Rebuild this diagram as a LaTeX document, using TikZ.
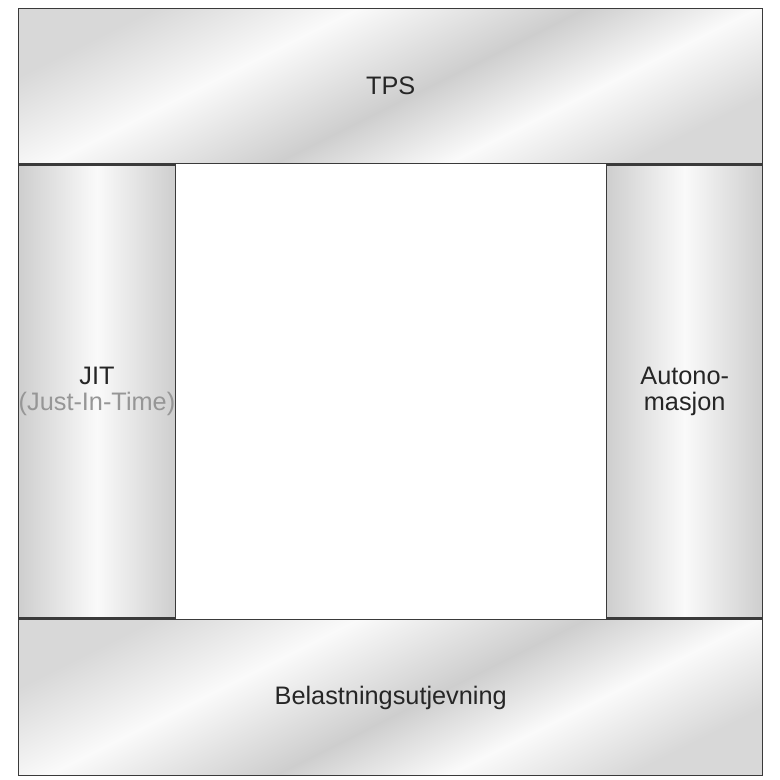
\documentclass[tikz,border=0pt]{standalone}
\usepackage{fontspec}
\setmainfont{Liberation Sans}
\usetikzlibrary{positioning}

\definecolor{framegray}{RGB}{58,58,58}
\definecolor{bandgray}{RGB}{206,206,206}
\definecolor{cornergray}{RGB}{216,216,216}
\definecolor{bandwhite}{RGB}{250,250,250}
\definecolor{subgray}{RGB}{150,150,150}

% brushed metal look for the two wide bands
\pgfdeclarehorizontalshading{brushed}{100bp}{color(0bp)=(cornergray);
   color(25bp)=(cornergray); color(38bp)=(bandwhite); color(52.5bp)=(bandgray);
   color(63.5bp)=(bandwhite); color(75bp)=(cornergray); color(100bp)=(cornergray)}

\begin{document}
\begin{tikzpicture}[
         box/.style = {draw=framegray, line width=1pt, inner sep=0pt,
         text=black!85, align=center, font=\fontsize{18}{18.5}\selectfont},
         band/.style = {box, shading=brushed, shading angle=-63.4,
         minimum width=18.6cm},
         pillar/.style = {box, left color=bandgray, right color=bandgray,
         middle color=bandwhite, minimum width=3.9cm, minimum height=11.325cm}]

   \useasboundingbox (0,0) rectangle (19.5,19.5);

   % roof
   \node[band, minimum height=3.875cm, anchor=north west] (tps) at (0.45,19.3) {TPS};

   % pillars
   \node[pillar, below right=0pt and 0pt of tps.south west] (jit)
        {JIT\\\textcolor{subgray}{(Just-In-Time)}};
   \node[pillar, below left=0pt and 0pt of tps.south east]  (autonom)
        {Autono-\\masjon};

   % base
   \node[band, minimum height=3.9cm, below right=0pt and 0pt of jit.south west]
        (belast) {Belastningsutjevning};

\end{tikzpicture}
\end{document}
